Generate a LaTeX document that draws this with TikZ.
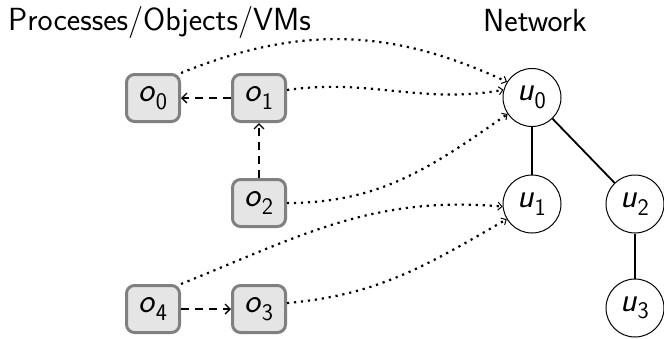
\documentclass[tikz,border=0pt]{standalone}
\usepackage{fontspec}
\usetikzlibrary{arrows.meta}
\newcommand{\ov}[2]{\textit{#1}$_{\mathsf{#2}}$}
\begin{document}
\begin{tikzpicture}[x=1pt,y=-1pt,
  every node/.style={font=\sffamily\fontsize{32}{36}\selectfont},
  lbl/.style={font=\sffamily\fontsize{34}{40}\selectfont},
  objbox/.style={lbl, draw=black!50, fill=black!10, line width=3pt, rounded corners=8pt,
    minimum width=53pt, minimum height=47pt, inner sep=0pt},
  netnode/.style={lbl, circle, draw=black, line width=1pt, minimum size=58pt, inner sep=0pt},
  dep/.style={line width=2pt, dash pattern=on 8pt off 6pt, -{Straight Barb[length=5pt,width=10pt,line width=1.4pt]}},
  map/.style={line width=2.2pt, dash pattern=on 2.2pt off 4.8pt, -{Straight Barb[length=4pt,width=8pt,line width=1pt]}},
  tree/.style={line width=1.8pt}]
\useasboundingbox (0,0) rectangle (664,338);
\node[anchor=base west, inner sep=0pt] (title) at (8,30) {Processes/Objects/VMs};
\node[anchor=base west, inner sep=0pt] (nettitle) at (483,31) {Network};

\node[objbox] (o0) at (153,98) {\ov{o}{0}};
\node[objbox] (o1) at (259,98) {\ov{o}{1}};
\node[objbox] (o2) at (259,203) {\ov{o}{2}};
\node[objbox] (o4) at (153,309) {\ov{o}{4}};
\node[objbox] (o3) at (259,309) {\ov{o}{3}};

\node[netnode] (u0) at (532,97.5) {\ov{u}{0}};
\node[netnode] (u1) at (532,204) {\ov{u}{1}};
\node[netnode] (u2) at (635,204) {\ov{u}{2}};
\node[netnode] (u3) at (635,308) {\ov{u}{3}};

\draw[tree] (u0) -- (u1);
\draw[tree] (u0) -- (u2);
\draw[tree] (u2) -- (u3);

\draw[dep] (o1) -- (o0);
\draw[dep] (o2) -- (o1);
\draw[dep] (o4) -- (o3);

\draw[map] (o0.north east) to[out=22,in=155] (u0.148);
\draw[map] (o1.16) to[out=8,in=190] (u0.165);
\draw[map] (o2.east) to[out=0,in=215] (u0.214);
\draw[map] (o4.north east) to[out=22,in=175] (u1.185);
\draw[map] (o3.12) to[out=5,in=210] (u1.211);
\end{tikzpicture}
\end{document}
